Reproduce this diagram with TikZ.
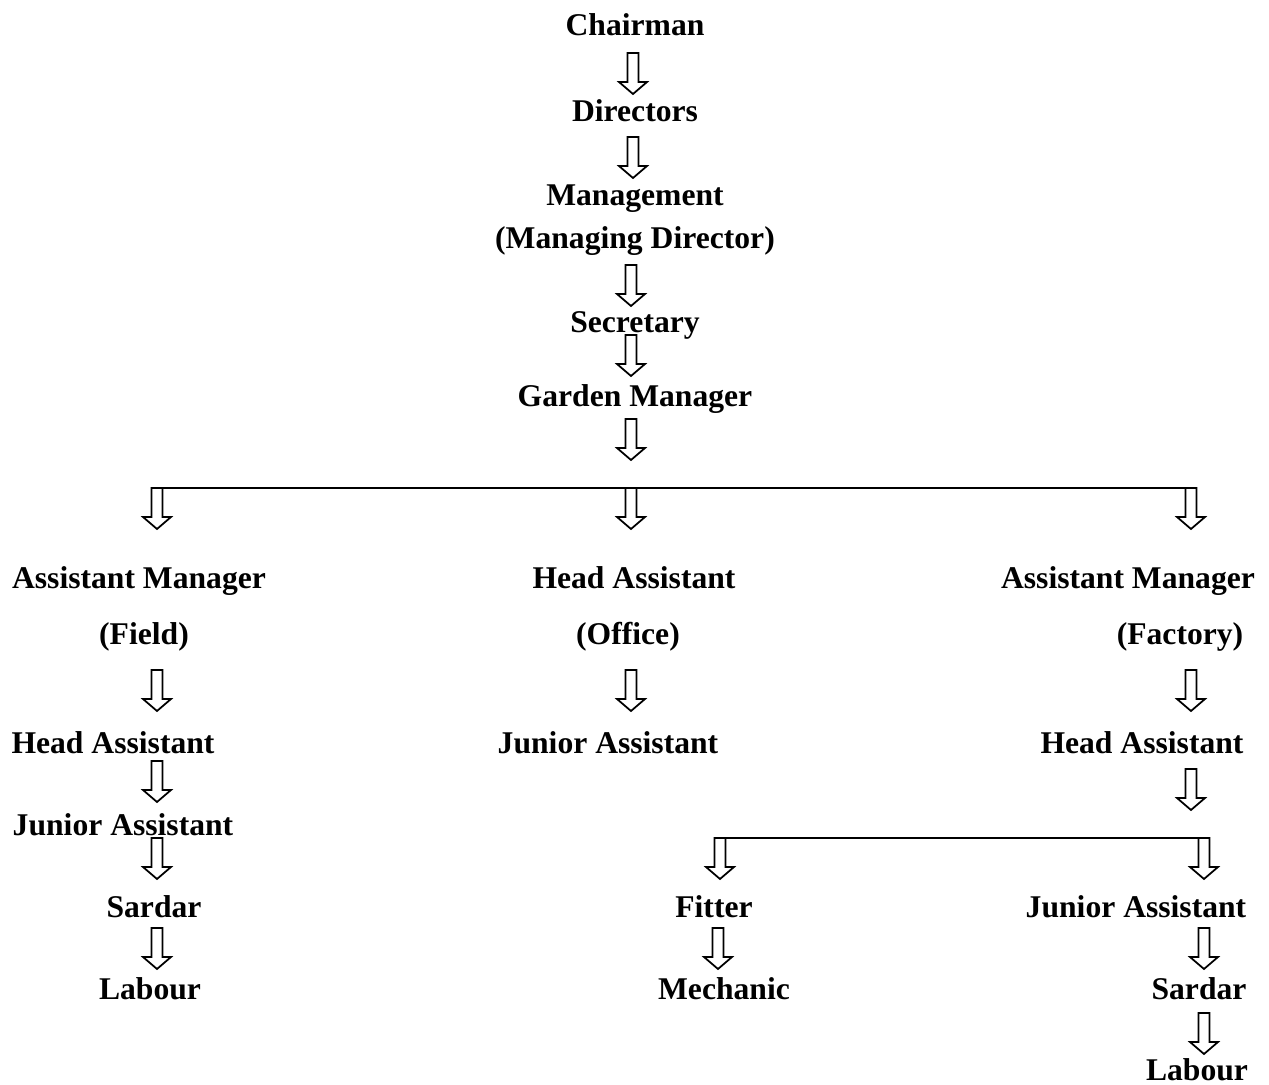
\documentclass[tikz,border=0pt]{standalone}
\usepackage{fontspec}
\setmainfont{Liberation Serif}

\begin{document}
\begin{tikzpicture}[x=0.02cm, y=-0.02cm, line width=1.1pt,
    lbl/.style={anchor=base, inner sep=0pt, font=\fontsize{18}{21}\selectfont\bfseries},
    blk/.pic={\draw[line width=1pt] (-5.5,0) -- (5.5,0) -- (5.5,29) -- (14,29) -- (0,41) -- (-14,29) -- (-5.5,29) -- cycle;}]
        \useasboundingbox[fill=white] (0,0) rectangle (1269,1085);

        % top of the chart
        \draw (635,35) node[lbl] (chair) {Chairman};
        \pic at (633,53) {blk};
        \draw (635,121) node[lbl] (dir) {Directors};
        \pic at (633,137) {blk};
        \draw (635,205) node[lbl] (mgmt) {Management};
        \draw (635,248) node[lbl] (md) {(Managing Director)};
        \pic at (631,265) {blk};
        \draw (635,332) node[lbl] (sec) {Secretary};
        \pic at (631,335) {blk};
        \draw (635,406) node[lbl] (gm) {Garden Manager};
        \pic at (631,419) {blk};

        % first branch
        \coordinate (brL) at (151.5,488);
        \coordinate (brR) at (1196.5,488);
        \draw (brL) -- (brR);
        \pic at (157,488) {blk};
        \pic at (631,488) {blk};
        \pic at (1191,488) {blk};

        \draw (139,588) node[lbl] (amf) {Assistant Manager};
        \draw (144,644) node[lbl] (field) {(Field)};
        \draw (634,588) node[lbl] (hao) {Head Assistant};
        \draw (628,644) node[lbl] (office) {(Office)};
        \draw (1128,588) node[lbl] (amt) {Assistant Manager};
        \draw (1180,644) node[lbl] (factory) {(Factory)};
        \pic at (157,670) {blk};
        \pic at (631,670) {blk};
        \pic at (1191,670) {blk};

        % field side
        \draw (113,753) node[lbl] (haf) {Head Assistant};
        \pic at (157,761) {blk};
        \draw (123,835) node[lbl] (jaf) {Junior Assistant};
        \pic at (157,838) {blk};
        \draw (154,917) node[lbl] (sdf) {Sardar};
        \pic at (157,928) {blk};
        \draw (150,999) node[lbl] (lbf) {Labour};

        % office side
        \draw (608,753) node[lbl] (jao) {Junior Assistant};

        % factory side
        \draw (1142,753) node[lbl] (hat) {Head Assistant};
        \pic at (1191,769) {blk};
        \coordinate (brL2) at (714.5,838);
        \coordinate (brR2) at (1209.5,838);
        \draw (brL2) -- (brR2);
        \pic at (720,838) {blk};
        \pic at (1204,838) {blk};
        \draw (714,917) node[lbl] (fit) {Fitter};
        \pic at (718,928) {blk};
        \draw (724,999) node[lbl] (mech) {Mechanic};
        \draw (1136,917) node[lbl] (jat) {Junior Assistant};
        \pic at (1204,928) {blk};
        \draw (1199,999) node[lbl] (sdt) {Sardar};
        \pic at (1204,1013) {blk};
        \draw (1197,1080) node[lbl] (lbt) {Labour};
    \end{tikzpicture}
\end{document}
